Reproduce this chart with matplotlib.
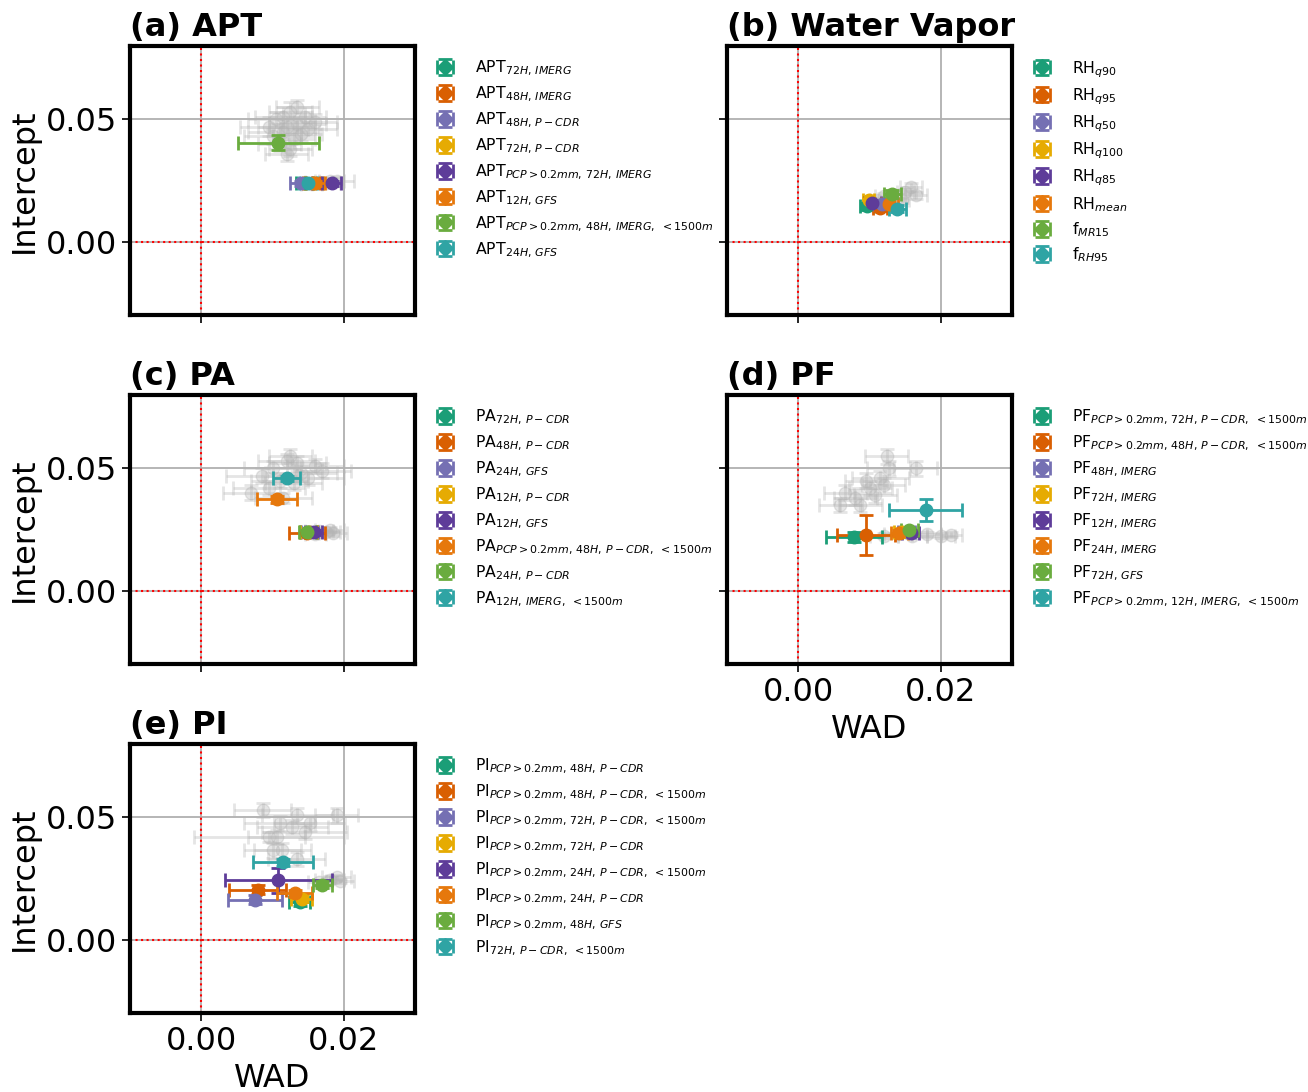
import matplotlib
matplotlib.use("Agg")
import matplotlib.pyplot as plt
from matplotlib.legend_handler import HandlerErrorbar
from matplotlib.container import ErrorbarContainer
from matplotlib.lines import Line2D

plt.rcParams["mathtext.default"] = "it"

COLORS = ["#1b9e77", "#d95f02", "#7570b3", "#e6ab02",
          "#5e3c99", "#e6780c", "#6aac3f", "#2fa4a4"]

# --- panel (a) APT -------------------------------------------------------
a_labels = [r"APT$_{72H,\,IMERG}$", r"APT$_{48H,\,IMERG}$", r"APT$_{48H,\,P-CDR}$",
            r"APT$_{72H,\,P-CDR}$", r"APT$_{PCP>0.2mm,\,72H,\,IMERG}$", r"APT$_{12H,\,GFS}$",
            r"APT$_{PCP>0.2mm,\,48H,\,IMERG,\ <1500m}$", r"APT$_{24H,\,GFS}$"]
a_x = [0.0145, 0.0155, 0.0140, 0.0158, 0.0183, 0.0160, 0.0108, 0.0150]
a_y = [0.0238, 0.0238, 0.0238, 0.0238, 0.0238, 0.0238, 0.0405, 0.0238]
a_xerr = [0.0012, 0.0012, 0.0015, 0.0013, 0.0013, 0.0013, 0.0057, 0.0013]
a_yerr = [0.0010, 0.0010, 0.0010, 0.0010, 0.0010, 0.0010, 0.0030, 0.0010]
a_gx = [0.0105, 0.0125, 0.0135, 0.0115, 0.0145, 0.0100, 0.0130, 0.0120, 0.0150, 0.0110,
        0.0140, 0.0095, 0.0125, 0.0135, 0.0115, 0.0160, 0.0120,
        0.0165, 0.0175, 0.0190, 0.0155, 0.0180]
a_gy = [0.050, 0.053, 0.048, 0.045, 0.051, 0.043, 0.042, 0.047, 0.046, 0.040,
        0.044, 0.047, 0.038, 0.055, 0.051, 0.049, 0.036,
        0.0245, 0.0240, 0.0250, 0.0235, 0.0250]
a_gxerr = [0.004, 0.003, 0.004, 0.005, 0.003, 0.004, 0.003, 0.004, 0.004, 0.003,
           0.003, 0.004, 0.003, 0.003, 0.004, 0.003, 0.003,
           0.002, 0.002, 0.0025, 0.0015, 0.002]
a_gyerr = [0.003, 0.004, 0.003, 0.003, 0.004, 0.003, 0.004, 0.003, 0.003, 0.003,
           0.003, 0.004, 0.003, 0.003, 0.004, 0.003, 0.003,
           0.0012, 0.001, 0.0015, 0.001, 0.001]

# --- panel (b) Water Vapor -----------------------------------------------
b_labels = [r"RH$_{q90}$", r"RH$_{q95}$", r"RH$_{q50}$", r"RH$_{q100}$",
            r"RH$_{q85}$", r"RH$_{mean}$", r"f$_{MR15}$", r"f$_{RH95}$"]
b_x = [0.0096, 0.0115, 0.0118, 0.0099, 0.0104, 0.0128, 0.0132, 0.0139]
b_y = [0.0145, 0.0136, 0.0152, 0.0170, 0.0157, 0.0155, 0.0195, 0.0135]
b_xerr = [0.0010, 0.0010, 0.0012, 0.0008, 0.0012, 0.0012, 0.0012, 0.0012]
b_yerr = [0.0015, 0.0012, 0.0012, 0.0010, 0.0010, 0.0012, 0.0015, 0.0015]
b_gx = [0.0158, 0.0165, 0.0150, 0.0120, 0.0145, 0.0110]
b_gy = [0.0223, 0.0190, 0.0205, 0.0185, 0.0170, 0.0170]
b_gxerr = [0.0015, 0.0015, 0.0012, 0.0012, 0.0010, 0.0010]
b_gyerr = [0.0015, 0.0015, 0.0012, 0.0012, 0.0010, 0.0010]

# --- panel (c) PA --------------------------------------------------------
c_labels = [r"PA$_{72H,\,P-CDR}$", r"PA$_{48H,\,P-CDR}$", r"PA$_{24H,\,GFS}$",
            r"PA$_{12H,\,P-CDR}$", r"PA$_{12H,\,GFS}$",
            r"PA$_{PCP>0.2mm,\,48H,\,P-CDR,\ <1500m}$", r"PA$_{24H,\,P-CDR}$",
            r"PA$_{12H,\,IMERG,\ <1500m}$"]
c_x = [0.0150, 0.0148, 0.0152, 0.0151, 0.0158, 0.0106, 0.0149, 0.0120]
c_y = [0.0240, 0.0236, 0.0238, 0.0238, 0.0238, 0.0373, 0.0238, 0.0460]
c_xerr = [0.0012, 0.0025, 0.0012, 0.0012, 0.0012, 0.0028, 0.0012, 0.0019]
c_yerr = [0.0012, 0.0012, 0.0010, 0.0010, 0.0010, 0.0015, 0.0010, 0.0010]
c_gx = [0.0100, 0.0120, 0.0140, 0.0110, 0.0160, 0.0085, 0.0130, 0.0150, 0.0095, 0.0125,
        0.0070, 0.0170, 0.0115, 0.0135,
        0.0165, 0.0175, 0.0185, 0.0160, 0.0180]
c_gy = [0.0500, 0.0530, 0.0480, 0.0450, 0.0510, 0.0470, 0.0440, 0.0460, 0.0420, 0.0550,
        0.0400, 0.0490, 0.0380, 0.0520,
        0.0245, 0.0240, 0.0235, 0.0230, 0.0250]
c_gxerr = [0.004, 0.004, 0.005, 0.004, 0.004, 0.005, 0.004, 0.005, 0.005, 0.003,
           0.004, 0.004, 0.004, 0.004,
           0.002, 0.002, 0.002, 0.0015, 0.002]
c_gyerr = [0.003, 0.003, 0.003, 0.003, 0.003, 0.003, 0.003, 0.003, 0.003, 0.003,
           0.003, 0.003, 0.002, 0.003,
           0.001, 0.001, 0.001, 0.001, 0.001]

# --- panel (d) PF --------------------------------------------------------
d_labels = [r"PF$_{PCP>0.2mm,\,72H,\,P-CDR,\ <1500m}$", r"PF$_{PCP>0.2mm,\,48H,\,P-CDR,\ <1500m}$",
            r"PF$_{48H,\,IMERG}$", r"PF$_{72H,\,IMERG}$", r"PF$_{12H,\,IMERG}$",
            r"PF$_{24H,\,IMERG}$", r"PF$_{72H,\,GFS}$", r"PF$_{PCP>0.2mm,\,12H,\,IMERG,\ <1500m}$"]
d_x = [0.0078, 0.0095, 0.0152, 0.0146, 0.0158, 0.0142, 0.0156, 0.0179]
d_y = [0.0220, 0.0226, 0.0238, 0.0238, 0.0236, 0.0236, 0.0246, 0.0328]
d_xerr = [0.0039, 0.0041, 0.0012, 0.0012, 0.0012, 0.0012, 0.0012, 0.0051]
d_yerr = [0.0020, 0.0082, 0.0012, 0.0012, 0.0012, 0.0012, 0.0012, 0.0045]
d_gx = [0.0124, 0.0165, 0.0066, 0.0059, 0.0087, 0.0101, 0.0115, 0.0127, 0.0108, 0.0120,
        0.0095, 0.0080,
        0.0120, 0.0140, 0.0160, 0.0180, 0.0200, 0.0215]
d_gy = [0.0549, 0.0500, 0.0400, 0.0350, 0.0350, 0.0420, 0.0460, 0.0500, 0.0390, 0.0430,
        0.0450, 0.0380,
        0.0225, 0.0230, 0.0225, 0.0230, 0.0225, 0.0228]
d_gxerr = [0.003, 0.003, 0.003, 0.003, 0.003, 0.003, 0.004, 0.003, 0.003, 0.003,
           0.003, 0.003,
           0.002, 0.002, 0.002, 0.002, 0.002, 0.0015]
d_gyerr = [0.003, 0.003, 0.003, 0.003, 0.003, 0.003, 0.003, 0.003, 0.003, 0.003,
           0.003, 0.003,
           0.001, 0.001, 0.001, 0.001, 0.001, 0.001]

# --- panel (e) PI --------------------------------------------------------
e_labels = [r"PI$_{PCP>0.2mm,\,48H,\,P-CDR}$", r"PI$_{PCP>0.2mm,\,48H,\,P-CDR,\ <1500m}$",
            r"PI$_{PCP>0.2mm,\,72H,\,P-CDR,\ <1500m}$", r"PI$_{PCP>0.2mm,\,72H,\,P-CDR}$",
            r"PI$_{PCP>0.2mm,\,24H,\,P-CDR,\ <1500m}$", r"PI$_{PCP>0.2mm,\,24H,\,P-CDR}$",
            r"PI$_{PCP>0.2mm,\,48H,\,GFS}$", r"PI$_{72H,\,P-CDR,\ <1500m}$"]
e_x = [0.0138, 0.0079, 0.0076, 0.0141, 0.0108, 0.0131, 0.0170, 0.0115]
e_y = [0.0152, 0.0205, 0.0164, 0.0168, 0.0242, 0.0189, 0.0225, 0.0316]
e_xerr = [0.0015, 0.0040, 0.0038, 0.0015, 0.0075, 0.0025, 0.0013, 0.0042]
e_yerr = [0.0015, 0.0020, 0.0020, 0.0015, 0.0050, 0.0015, 0.0015, 0.0015]
e_gx = [0.0135, 0.0190, 0.0110, 0.0128, 0.0106, 0.0100, 0.0114, 0.0134, 0.0152, 0.0086,
        0.0095, 0.0145,
        0.0180, 0.0195, 0.0165, 0.0190]
e_gy = [0.0508, 0.0508, 0.0475, 0.0460, 0.0420, 0.0365, 0.0365, 0.0330, 0.0475, 0.0530,
        0.0420, 0.0440,
        0.0245, 0.0240, 0.0235, 0.0255]
e_gxerr = [0.005, 0.003, 0.005, 0.005, 0.004, 0.004, 0.004, 0.004, 0.005, 0.004,
           0.0105, 0.006,
           0.002, 0.002, 0.0015, 0.002]
e_gyerr = [0.003, 0.003, 0.003, 0.003, 0.003, 0.003, 0.003, 0.003, 0.003, 0.003,
           0.002, 0.003,
           0.0015, 0.001, 0.001, 0.001]

PANELS = [
    ("(a) APT", a_labels, a_x, a_y, a_xerr, a_yerr, a_gx, a_gy, a_gxerr, a_gyerr),
    ("(b) Water Vapor", b_labels, b_x, b_y, b_xerr, b_yerr, b_gx, b_gy, b_gxerr, b_gyerr),
    ("(c) PA", c_labels, c_x, c_y, c_xerr, c_yerr, c_gx, c_gy, c_gxerr, c_gyerr),
    ("(d) PF", d_labels, d_x, d_y, d_xerr, d_yerr, d_gx, d_gy, d_gxerr, d_gyerr),
    ("(e) PI", e_labels, e_x, e_y, e_xerr, e_yerr, e_gx, e_gy, e_gxerr, e_gyerr),
]

# axes positions in figure pixels (left, top) for a 1308x1092 canvas
W, H = 1308, 1092
AX_POS = [(130, 46), (727, 46), (130, 395), (727, 395), (130, 744)]
AX_W, AX_H = 285, 269


class DiamondErrorbar(HandlerErrorbar):
    """legend entries drawn as a diamond inside the errorbar caps"""
    def create_artists(self, *args, **kwargs):
        artists = super().create_artists(*args, **kwargs)
        for art in artists:
            if isinstance(art, Line2D) and art.get_marker() == "o":
                art.set_marker("D")
                art.set_markersize(8)
        return artists


fig = plt.figure(figsize=(W / 100, H / 100), dpi=100)

for i, (title, labels, xs, ys, xe, ye, gx, gy, gxe, gye) in enumerate(PANELS):
    left, top = AX_POS[i]
    ax = fig.add_axes([left / W, (H - top - AX_H) / H, AX_W / W, AX_H / H])

    ax.errorbar(gx, gy, xerr=gxe, yerr=gye, fmt="o", color="#b5b5b5", alpha=0.35,
                markersize=9, capsize=5, elinewidth=2, capthick=2, zorder=2)
    for k in range(len(labels)):
        ax.errorbar(xs[k], ys[k], xerr=xe[k], yerr=ye[k], fmt="o", color=COLORS[k],
                    markersize=9, capsize=5, elinewidth=2, capthick=2,
                    label=labels[k], zorder=3)

    ax.axvline(0, color="red", linestyle=":", linewidth=1.5, zorder=1)
    ax.axhline(0, color="red", linestyle=":", linewidth=1.5, zorder=1)
    ax.set_xlim(-0.01, 0.03)
    ax.set_ylim(-0.03, 0.08)
    ax.set_xticks([0.0, 0.02])
    ax.set_yticks([0.0, 0.05])
    ax.grid(True, color="#b0b0b0", linewidth=1.3, zorder=0)
    ax.set_axisbelow(True)
    for sp in ax.spines.values():
        sp.set_linewidth(3)
    ax.tick_params(labelsize=23, width=1.2, length=6)

    if i in (3, 4):
        ax.set_xticklabels(["0.00", "0.02"])
        ax.set_xlabel("WAD", fontsize=23)
    else:
        ax.set_xticklabels([])
    if i in (0, 2, 4):
        ax.set_yticklabels(["0.00", "0.05"])
        ax.set_ylabel("Intercept", fontsize=23)
    else:
        ax.set_yticklabels([])

    ax.set_title(title, loc="left", fontsize=23, fontweight="bold", pad=7)
    ax.legend(loc="upper left", bbox_to_anchor=(1.05, 0.975), frameon=False,
              fontsize=11.3, handlelength=1.2, handletextpad=1.3, labelspacing=0.42,
              borderaxespad=0, handler_map={ErrorbarContainer: DiamondErrorbar()})

fig.savefig("out.png", dpi=100)
